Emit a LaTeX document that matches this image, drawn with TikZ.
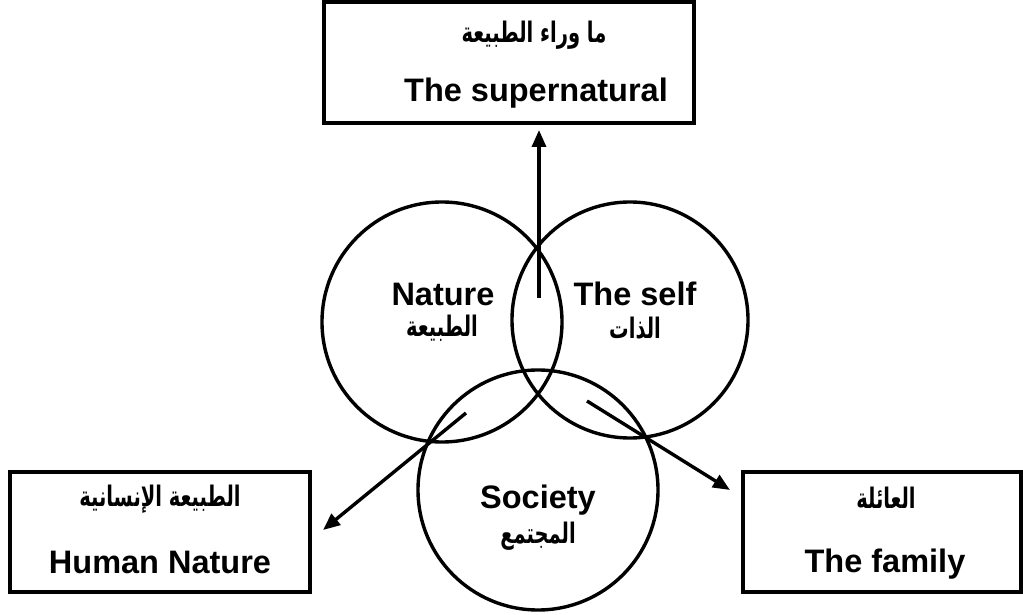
\documentclass[tikz,border=0pt]{standalone}
\usepackage{fontspec}
\setmainfont{Liberation Sans}
\newfontfamily\arabicfont[Script=Arabic]{DejaVu Sans}
\TeXXeTstate=1
\usetikzlibrary{arrows.meta}
\newcommand{\ar}[1]{\scalebox{1}[1.45]{\arabicfont\bfseries\fontsize{19.5}{22}\selectfont\beginR #1\endR}}
\tikzset{
  x=1pt,y=-1pt,
  ln/.style={line width=3.4pt},
  circ/.style={ln, draw, circle, inner sep=0pt},
  boxx/.style={ln, draw, rectangle},
  en/.style={font=\bfseries\fontsize{32.5}{36}\selectfont, anchor=base, inner sep=0pt},
  arb/.style={anchor=base, inner sep=0pt},
  arr/.style={ln, -{Triangle[length=17pt,width=14pt]}}
}
\begin{document}
\begin{tikzpicture}
\useasboundingbox (0,0) rectangle (1023,615);
% boxes
\draw[boxx] (324,2) rectangle (694,123);
\draw[boxx] (10,472) rectangle (310,592);
\draw[boxx] (743,472) rectangle (1021,592);
% circles
\node[circ, minimum size=240pt] (nature) at (442,322) {};
\node[circ, minimum size=236pt] (self) at (630,320) {};
\node[circ, minimum size=240pt] (society) at (538,490) {};
% texts
\node[arb] (tsA) at (534,43) {\ar{ما وراء الطبيعة}};
\node[en] (tsE) at (536,102) {The supernatural};
\node[en] (natE) at (443,305) {Nature};
\node[arb] (natA) at (442,336) {\ar{الطبيعة}};
\node[en] (selfE) at (635,305) {The self};
\node[arb] (selfA) at (635,338) {\ar{الذات}};
\node[en] (socE) at (538,508) {Society};
\node[arb] (socA) at (538,543) {\ar{المجتمع}};
\node[arb] (hnA) at (160,506) {\ar{الطبيعة الإنسانية}};
\node[en] (hnE) at (160,573) {Human Nature};
\node[arb] (famA) at (886,508) {\ar{العائلة}};
\node[en] (famE) at (885,572) {The family};
% arrows
\coordinate (upS) at (539,298);
\coordinate (upT) at (539,130);
\coordinate (lS) at (466,413);
\coordinate (lT) at (323,530);
\coordinate (rS) at (587,401);
\coordinate (rT) at (730,490);
\draw[arr] (upS) -- (upT);
\draw[arr] (lS) -- (lT);
\draw[arr] (rS) -- (rT);
\end{tikzpicture}
\end{document}
